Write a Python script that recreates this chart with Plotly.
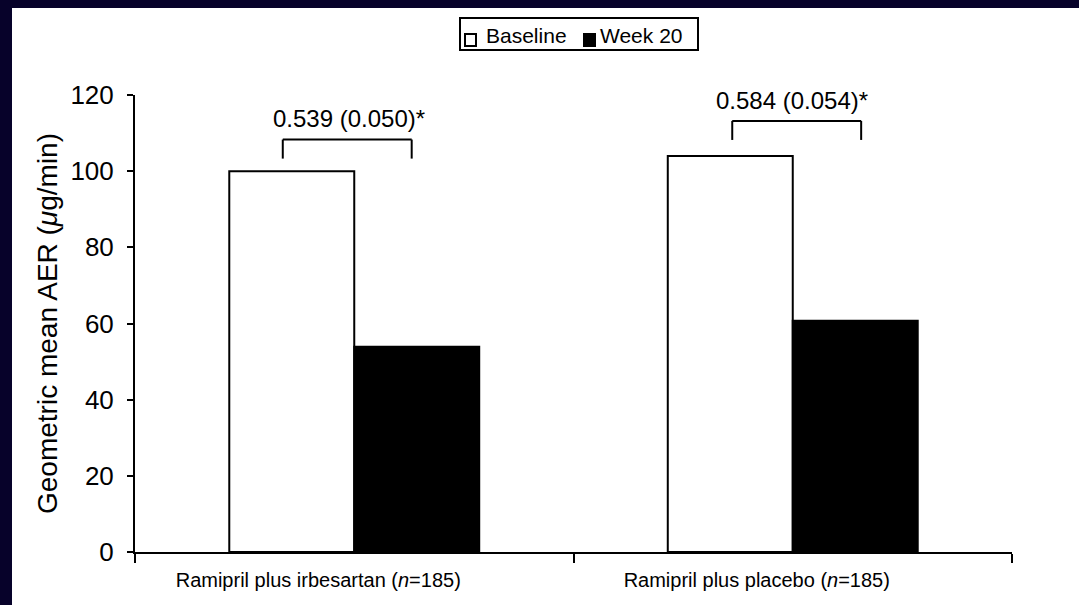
import plotly.graph_objects as go

# Geometric mean albumin excretion rate by treatment arm
groups = ["Ramipril plus irbesartan (<i>n</i>=185)", "Ramipril plus placebo (<i>n</i>=185)"]
series_names = ["Baseline", "Week 20"]
baseline = [100.0, 104.0]
week20 = [53.9, 60.7]
ratio_labels = ["0.539 (0.050)*", "0.584 (0.054)*"]
y_ticks = [0, 20, 40, 60, 80, 100, 120]

FONT = "Liberation Sans, Arial, Helvetica, sans-serif"
NAVY = "#07022a"
W, H = 1079, 605
ML, MR, MT, MB = 135, 67, 95, 53
PW, PH = W - ML - MR, H - MT - MB


def px_x(p):
    return (p - ML) / PW


def px_y(p):
    return (H - MB - p) / PH


fig = go.Figure()
fig.add_trace(go.Bar(
    name=series_names[0], x=groups, y=baseline,
    marker=dict(color="white", line=dict(color="black", width=2)),
))
fig.add_trace(go.Bar(
    name=series_names[1], x=groups, y=week20,
    marker=dict(color="black", line=dict(color="black", width=2)),
))

# ratio brackets above each pair of bars
bracket_span = [(-0.163, 0.131), (-0.138, 0.156)]
bracket_lift = [3.3, 4.2]
shapes = []
annotations = []
for i, (b, lab) in enumerate(zip(baseline, ratio_labels)):
    leg_bottom = b + bracket_lift[i]
    top = leg_bottom + 5.0
    xl, xr = i + bracket_span[i][0], i + bracket_span[i][1]
    line = dict(color="black", width=2)
    shapes.append(dict(type="line", xref="x", yref="y", x0=xl, x1=xl, y0=leg_bottom, y1=top, line=line))
    shapes.append(dict(type="line", xref="x", yref="y", x0=xr, x1=xr, y0=leg_bottom, y1=top, line=line))
    shapes.append(dict(type="line", xref="x", yref="y", x0=xl, x1=xr, y0=top, y1=top, line=line))
    annotations.append(dict(
        x=i - 0.012 + (0.01 if i else 0), y=top + 5.4, xref="x", yref="y", text=lab, showarrow=False,
        xanchor="center", yanchor="middle", font=dict(size=24, color="black", family=FONT),
    ))

# dark frame along the top and left edges of the page
shapes.append(dict(type="rect", xref="paper", yref="paper", x0=-0.2, x1=1.2,
                   y0=px_y(8), y1=1.3, fillcolor=NAVY, line=dict(width=0), layer="below"))
shapes.append(dict(type="rect", xref="paper", yref="paper", x0=-0.2, x1=px_x(12),
                   y0=-0.2, y1=1.3, fillcolor=NAVY, line=dict(width=0), layer="below"))

# legend box with swatches
shapes.append(dict(type="rect", xref="paper", yref="paper", x0=px_x(460), x1=px_x(698),
                   y0=px_y(50), y1=px_y(18), fillcolor="white", line=dict(color="black", width=2)))
swatches = [(465, "white", 484), (584, "black", 598)]
for (sx, fill, tx), name in zip(swatches, series_names):
    shapes.append(dict(type="rect", xref="paper", yref="paper", x0=px_x(sx), x1=px_x(sx + 11),
                       y0=px_y(46), y1=px_y(34), fillcolor=fill, line=dict(color="black", width=2)))
    annotations.append(dict(x=px_x(tx), y=px_y(36), xref="paper", yref="paper", text=name,
                            showarrow=False, xanchor="left", yanchor="middle",
                            font=dict(size=21, color="black", family=FONT)))

fig.update_layout(
    width=W, height=H,
    margin=dict(l=ML, r=MR, t=MT, b=MB),
    paper_bgcolor="white", plot_bgcolor="white",
    barmode="group", bargap=0.43, bargroupgap=0,
    font=dict(family=FONT, color="black"),
    showlegend=False,
    shapes=shapes,
    annotations=annotations,
)

fig.update_xaxes(
    type="category", tickson="boundaries", ticks="outside", ticklen=9, tickwidth=2,
    tickcolor="black", showline=True, linecolor="black", linewidth=2,
    showgrid=False, zeroline=False, ticklabelshift=-36, ticklabelstandoff=9,
    tickfont=dict(size=20, color="black", family=FONT),
)
fig.update_yaxes(
    range=[0, 120], tickvals=y_ticks, ticks="outside", ticklen=6, tickwidth=2,
    tickcolor="black", showline=True, linecolor="black", linewidth=2,
    showgrid=False, zeroline=False, ticklabelstandoff=8,
    tickfont=dict(size=26, color="black", family=FONT),
    title=dict(text="Geometric mean AER (<i>μ</i>g/min)", standoff=5,
               font=dict(size=28, color="black", family=FONT)),
)

fig.write_html("out.html")
